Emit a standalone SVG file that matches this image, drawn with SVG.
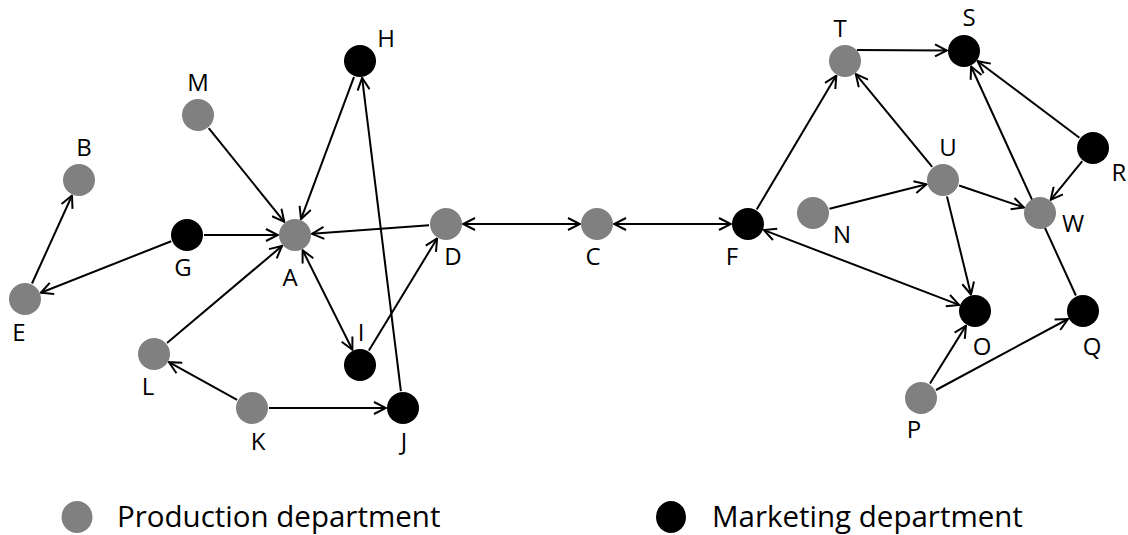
<svg xmlns="http://www.w3.org/2000/svg" width="1128" height="535" viewBox="0 0 1128 535">
<style>
.p{fill:#808080}
.m{fill:#000}
.e{stroke:#000;stroke-width:2;fill:none}
.a{marker-end:url(#arr)}
.b{marker-start:url(#arr);marker-end:url(#arr)}
text{font-family:"Open Sans","Noto Sans",sans-serif;fill:#000}
.l{font-size:24px;text-anchor:middle}
.g{font-size:29.5px}
</style>
<defs>
<marker id="arr" viewBox="0 0 14 14" refX="13" refY="7" markerWidth="14" markerHeight="14" markerUnits="userSpaceOnUse" orient="auto-start-reverse">
<path d="M1,1 L13,7 L1,13" fill="none" stroke="#000" stroke-width="2"/>
</marker>
</defs>
<rect width="1128" height="535" fill="#fff"/>
<g id="connectors">
<line class="e a" x1="208.7" y1="128.2" x2="284.3" y2="221.8"/>
<line class="e a" x1="354" y1="76.9" x2="301" y2="219.1"/>
<line class="e a" x1="204" y1="235" x2="278" y2="235"/>
<line class="e a" x1="429" y1="225.2" x2="312" y2="233.8"/>
<line class="e a" x1="167" y1="343" x2="282" y2="246"/>
<line class="e a" x1="171.2" y1="241.2" x2="40.8" y2="292.8"/>
<line class="e a" x1="32" y1="283.5" x2="72" y2="195.5"/>
<line class="e b" x1="302.6" y1="250.2" x2="352.4" y2="349.8"/>
<line class="e a" x1="368.9" y1="350.5" x2="437.1" y2="238.5"/>
<line class="e a" x1="400.9" y1="391.1" x2="362.1" y2="77.9"/>
<line class="e a" x1="237.1" y1="399.8" x2="168.9" y2="362.2"/>
<line class="e a" x1="269" y1="408" x2="386" y2="408"/>
<line class="e b" x1="463" y1="224" x2="580" y2="224"/>
<line class="e b" x1="614" y1="224" x2="731" y2="224"/>
<line class="e a" x1="756.7" y1="209.4" x2="836.3" y2="75.6"/>
<line class="e b" x1="763.9" y1="230.1" x2="959.1" y2="304.9"/>
<line class="e a" x1="857" y1="50" x2="947" y2="50.5"/>
<line class="e a" x1="932.2" y1="166.9" x2="855.8" y2="74.1"/>
<line class="e a" x1="829.5" y1="208.8" x2="926.5" y2="184.2"/>
<line class="e a" x1="959.1" y1="185.5" x2="1023.9" y2="207.5"/>
<line class="e a" x1="947" y1="196.5" x2="971" y2="294.5"/>
<line class="e a" x1="1079.4" y1="137.8" x2="977.6" y2="61.2"/>
<line class="e a" x1="1082.3" y1="161.2" x2="1050.7" y2="199.8"/>
<line class="e a" x1="1075.9" y1="295.5" x2="971.1" y2="66.5"/>
<line class="e a" x1="930" y1="383.5" x2="966" y2="325.6"/>
<line class="e a" x1="936" y1="390" x2="1068" y2="319"/>
</g>
<g id="node-A"><circle class="p" cx="295" cy="235" r="16"/><text class="l" x="290" y="286">A</text></g>
<g id="node-B"><circle class="p" cx="79" cy="180" r="16"/><text class="l" x="84" y="156">B</text></g>
<g id="node-C"><circle class="p" cx="597" cy="224" r="16"/><text class="l" x="593" y="265">C</text></g>
<g id="node-D"><circle class="p" cx="446" cy="224" r="16"/><text class="l" x="453" y="265">D</text></g>
<g id="node-E"><circle class="p" cx="25" cy="299" r="16"/><text class="l" x="19" y="341">E</text></g>
<g id="node-F"><circle class="m" cx="748" cy="224" r="16"/><text class="l" x="732" y="265">F</text></g>
<g id="node-G"><circle class="m" cx="187" cy="235" r="16"/><text class="l" x="183" y="276">G</text></g>
<g id="node-H"><circle class="m" cx="360" cy="61" r="16"/><text class="l" x="386" y="47">H</text></g>
<g id="node-I"><circle class="m" cx="360" cy="365" r="16"/><text class="l" x="361" y="341">I</text></g>
<g id="node-J"><circle class="m" cx="403" cy="408" r="16"/><text class="l" x="404" y="450">J</text></g>
<g id="node-K"><circle class="p" cx="252" cy="408" r="16"/><text class="l" x="258" y="450">K</text></g>
<g id="node-L"><circle class="p" cx="154" cy="354" r="16"/><text class="l" x="148" y="395">L</text></g>
<g id="node-M"><circle class="p" cx="198" cy="115" r="16"/><text class="l" x="198" y="91">M</text></g>
<g id="node-N"><circle class="p" cx="813" cy="213" r="16"/><text class="l" x="842" y="243">N</text></g>
<g id="node-O"><circle class="m" cx="975" cy="311" r="16"/><text class="l" x="982" y="355">O</text></g>
<g id="node-P"><circle class="p" cx="921" cy="398" r="16"/><text class="l" x="914" y="438">P</text></g>
<g id="node-Q"><circle class="m" cx="1083" cy="311" r="16"/><text class="l" x="1092" y="355">Q</text></g>
<g id="node-R"><circle class="m" cx="1093" cy="148" r="16"/><text class="l" x="1119" y="181">R</text></g>
<g id="node-S"><circle class="m" cx="964" cy="51" r="16"/><text class="l" x="969" y="26">S</text></g>
<g id="node-T"><circle class="p" cx="845" cy="61" r="16"/><text class="l" x="840" y="37">T</text></g>
<g id="node-U"><circle class="p" cx="943" cy="180" r="16"/><text class="l" x="948" y="156">U</text></g>
<g id="node-W"><circle class="p" cx="1040" cy="213" r="16"/><text class="l" x="1073" y="232">W</text></g>
<g id="legend">
<ellipse class="p" cx="77" cy="517" rx="15.5" ry="16"/>
<text class="g" x="117" y="527">Production department</text>
<ellipse class="m" cx="671" cy="517" rx="15" ry="16"/>
<text class="g" x="712" y="527">Marketing department</text>
</g>
</svg>
